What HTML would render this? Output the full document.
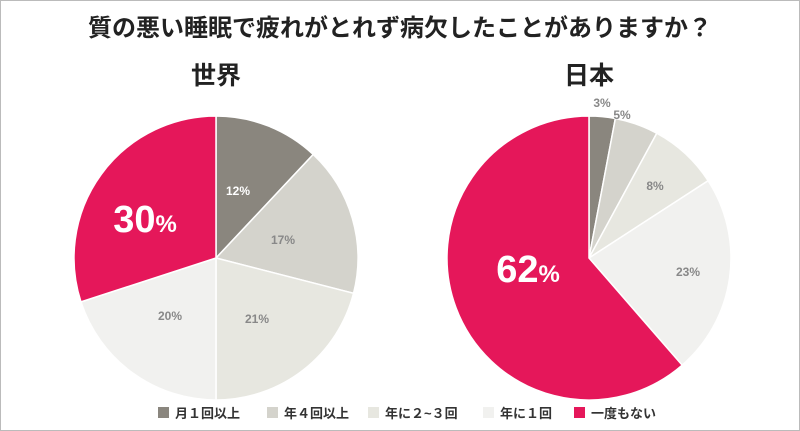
<!DOCTYPE html><html><head><meta charset="utf-8"><style>
body{margin:0;width:800px;height:431px;background:#fff;overflow:hidden;font-family:"Liberation Sans","Noto Sans CJK JP",sans-serif}
#f{position:absolute;left:0;top:0;width:798px;height:429px;border:1px solid #bbb}
</style></head><body><div id="f"></div>
<svg id="s" width="800" height="431" style="position:absolute;left:0;top:0" font-family="Liberation Sans, Noto Sans CJK JP, sans-serif">
<text x="400" y="36" text-anchor="middle" font-size="24" font-weight="bold" fill="#222">質の悪い睡眠で疲れがとれず病欠したことがありますか？</text>
<text x="216" y="84" text-anchor="middle" font-size="25" font-weight="bold" fill="#222">世界</text>
<text x="589" y="84" text-anchor="middle" font-size="25" font-weight="bold" fill="#222">日本</text>
<g id="p"></g>
<g font-weight="bold" font-size="12" fill="#fff" text-anchor="middle">
<text x="238" y="195">12%</text>
<text x="283" y="244" fill="#888">17%</text>
<text x="257" y="323" fill="#888">21%</text>
<text x="170" y="320" fill="#888">20%</text>
<text x="602" y="107" fill="#888">3%</text>
<text x="622" y="119" fill="#888">5%</text>
<text x="655" y="190" fill="#888">8%</text>
<text x="688" y="276" fill="#888">23%</text>
</g>
<text x="145" y="232" text-anchor="middle" font-size="38" font-weight="bold" fill="#fff">30<tspan font-size="24">%</tspan></text>
<text x="528" y="282" text-anchor="middle" font-size="38" font-weight="bold" fill="#fff">62<tspan font-size="24">%</tspan></text>
<g font-size="13" font-weight="bold" fill="#333">
<rect x="158" y="407" width="11" height="11" fill="#8a867e"/><text x="175" y="418">月１回以上</text>
<rect x="267" y="407" width="11" height="11" fill="#d4d3cc"/><text x="284" y="418">年４回以上</text>
<rect x="368" y="407" width="11" height="11" fill="#e7e7e0"/><text x="385" y="418">年に２~３回</text>
<rect x="483" y="407" width="11" height="11" fill="#f1f1ef"/><text x="500" y="418">年に１回</text>
<rect x="574" y="407" width="11" height="11" fill="#e5175a"/><text x="591" y="418">一度もない</text>
</g>
</svg>
<script>
var C=["#8a867e","#d4d3cc","#e7e7e0","#f1f1ef","#e5175a"];
function pie(cx,cy,r,v){var t=v.reduce((a,b)=>a+b),a=0,h="";v.forEach(function(x,i){var a0=a/t*2*Math.PI;a+=x;var a1=a/t*2*Math.PI;
var x0=cx+r*Math.sin(a0),y0=cy-r*Math.cos(a0),x1=cx+r*Math.sin(a1),y1=cy-r*Math.cos(a1);
h+='<path d="M'+cx+' '+cy+'L'+x0+' '+y0+'A'+r+' '+r+' 0 '+((a1-a0)>Math.PI?1:0)+' 1 '+x1+' '+y1+'Z" fill="'+C[i]+'" stroke="#fff" stroke-width="1.5"/>';});return h;}
document.getElementById("p").innerHTML=pie(216,258,142,[12,17,21,20,30])+pie(589,258,142,[3,5,8,23,62]);
</script>
</body></html>
